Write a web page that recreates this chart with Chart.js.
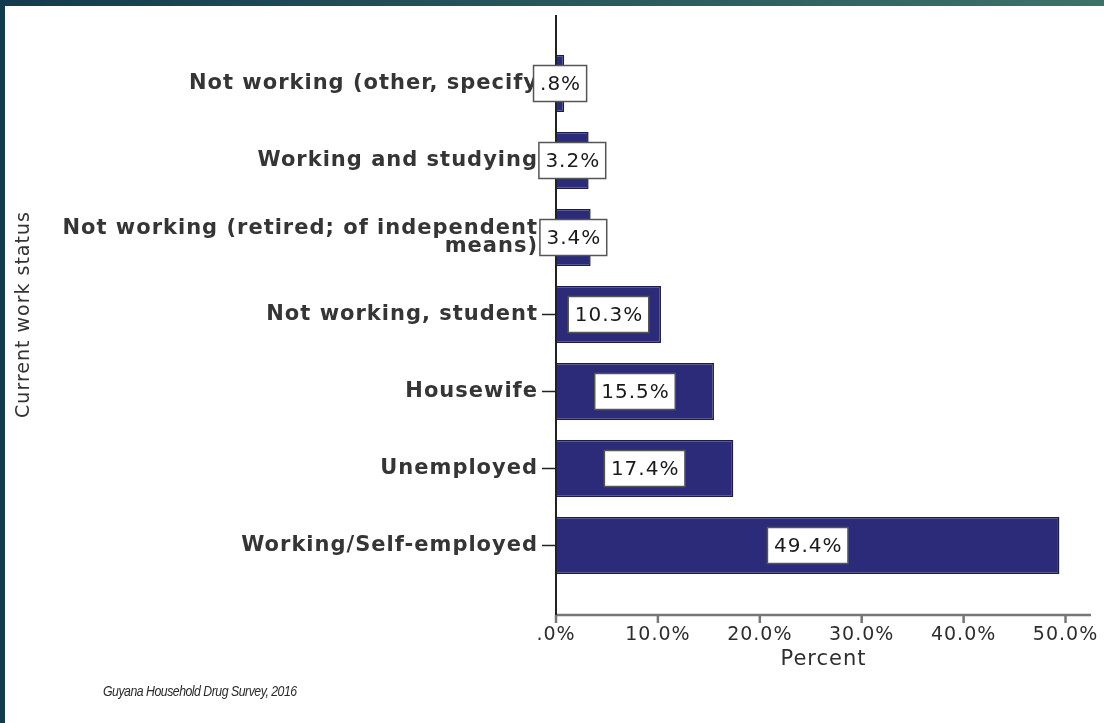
<!DOCTYPE html>
<html>
<head>
<meta charset="utf-8">
<script src="https://cdn.jsdelivr.net/npm/chart.js@4.4.1/dist/chart.umd.min.js"></script>
<style>
	html, body { margin: 0; padding: 0; }
	body {
		width: 1104px; height: 723px; overflow: hidden; position: relative;
		background: linear-gradient(90deg, #123c4b 0%, #285a5e 55%, #3b7368 100%);
	}
	#panel { position: absolute; left: 5px; top: 6px; right: 0; bottom: 0; background: #fff; }
	#chart { position: absolute; left: 0; top: 0; }
	#source {
		position: absolute; left: 103px; top: 682px; color: #2a2a2a; white-space: nowrap;
		font: italic 15px "Liberation Sans", sans-serif; letter-spacing: -0.6px;
		transform: scaleX(0.82); transform-origin: left center;
	}
</style>
</head>
<body>
<div id="panel"></div>
<canvas id="chart" width="1104" height="723"></canvas>
<div id="source">Guyana Household Drug Survey, 2016</div>
<script>
const statuses = [
	'Not working (other, specify',
	'Working and studying',
	['Not working (retired; of independent', 'means)'],
	'Not working, student',
	'Housewife',
	'Unemployed',
	'Working/Self-employed'
];
const percents = [0.8, 3.2, 3.4, 10.3, 15.5, 17.4, 49.4];
const percentTicks = [0, 10, 20, 30, 40, 50];

// SPSS style: no leading zero, one decimal
function fmt(v) {
	let s = Number(v).toFixed(1);
	if (s.startsWith('0')) s = s.slice(1);
	return s + '%';
}

// a bit of extra tracking, like the SPSS export
const spacing = {
	id: 'spacing',
	beforeLayout(chart) { chart.ctx.letterSpacing = '1px'; },
	beforeDraw(chart) { chart.ctx.letterSpacing = '1px'; }
};

const axesAndLabels = {
	id: 'axesAndLabels',
	afterDraw(chart) {
		const { ctx, chartArea, scales: { x, y } } = chart;
		const x0 = x.getPixelForValue(0);
		const axisY = chartArea.bottom + 31;
		ctx.save();

		// horizontal axis + ticks
		ctx.strokeStyle = '#777';
		ctx.lineWidth = 2.5;
		ctx.beginPath();
		ctx.moveTo(x0, axisY);
		ctx.lineTo(chartArea.right, axisY);
		percentTicks.forEach(v => {
			const px = x.getPixelForValue(v);
			ctx.moveTo(px, axisY);
			ctx.lineTo(px, axisY + 8);
		});
		ctx.stroke();

		// vertical axis + ticks
		ctx.strokeStyle = '#222';
		ctx.lineWidth = 2;
		ctx.beginPath();
		ctx.moveTo(x0, chartArea.top - 30);
		ctx.lineTo(x0, axisY);
		ctx.stroke();
		ctx.lineWidth = 1.5;
		ctx.beginPath();
		statuses.forEach((s, i) => {
			const py = y.getPixelForValue(i);
			ctx.moveTo(x0 - 14, py);
			ctx.lineTo(x0, py);
		});
		ctx.stroke();

		// value boxes
		const meta = chart.getDatasetMeta(0);
		ctx.font = '20px "DejaVu Sans"';
		ctx.letterSpacing = '1px';
		ctx.textAlign = 'center';
		ctx.textBaseline = 'middle';
		meta.data.forEach((bar, i) => {
			const text = fmt(percents[i]);
			const cx = (bar.x + bar.base) / 2;
			const w = ctx.measureText(text).width + 12;
			const h = 36;
			ctx.fillStyle = '#fff';
			ctx.fillRect(cx - w / 2, bar.y - h / 2, w, h);
			ctx.strokeStyle = '#555';
			ctx.lineWidth = 1.5;
			ctx.strokeRect(cx - w / 2, bar.y - h / 2, w, h);
			ctx.fillStyle = '#1a1a1a';
			ctx.fillText(text, cx + 0.5, bar.y + 1);
		});
		ctx.restore();
	}
};

new Chart(document.getElementById('chart'), {
	type: 'bar',
	data: {
		labels: statuses,
		datasets: [{
			data: percents,
			backgroundColor: '#2b2b7a',
			borderColor: '#1b1b4e',
			borderWidth: 1.5,
			barPercentage: 0.74,
			categoryPercentage: 1
		}]
	},
	options: {
		indexAxis: 'y',
		responsive: false,
		animation: false,
		layout: { padding: { left: 5, top: 45, right: 13, bottom: 0 } },
		plugins: { legend: { display: false }, tooltip: { enabled: false } },
		scales: {
			x: {
				min: 0,
				max: 52.5,
				grid: { display: false, drawTicks: false },
				border: { display: false },
				afterBuildTicks: s => { s.ticks = percentTicks.map(v => ({ value: v })); },
				afterFit: s => { s.height = 139; s.paddingLeft = 0; s.paddingRight = 0; },
				ticks: {
					padding: 40, color: '#2e2e2e', autoSkip: false, maxRotation: 0,
					font: { family: 'DejaVu Sans', size: 19 },
					callback: v => fmt(v)
				},
				title: {
					display: true, text: 'Percent', color: '#2e2e2e',
					font: { family: 'DejaVu Sans', size: 21 },
					padding: { top: 0, bottom: 51 }
				}
			},
			y: {
				grid: { display: false, drawTicks: false },
				border: { display: false },
				afterFit: s => { s.width = 551; },
				ticks: {
					padding: 18, color: '#353535', autoSkip: false,
					font: { family: 'DejaVu Sans', size: 21, weight: 'bold', lineHeight: 0.86 }
				},
				title: {
					display: true, text: 'Current work status', color: '#333',
					font: { family: 'DejaVu Sans', size: 19 },
					padding: { top: 8, bottom: 0 }
				}
			}
		}
	},
	plugins: [spacing, axesAndLabels]
});
</script>
</body>
</html>
